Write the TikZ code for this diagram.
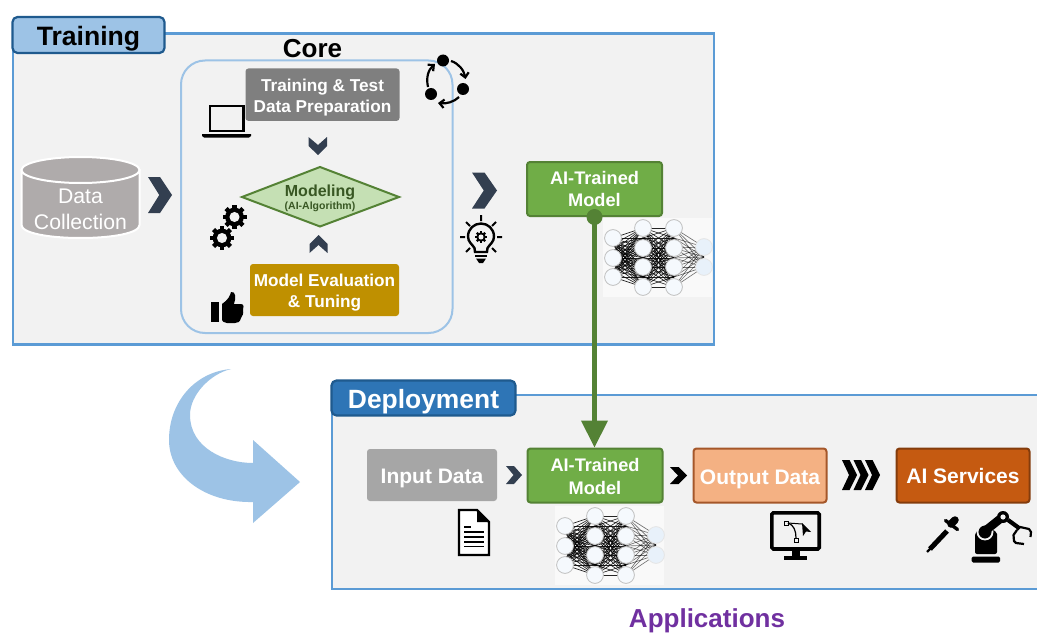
\documentclass[tikz,border=0pt]{standalone}
\usepackage{fontspec}
\setmainfont{Liberation Sans}
\usetikzlibrary{arrows.meta}
\definecolor{panelbg}{HTML}{F2F2F2}
\definecolor{framebl}{HTML}{5B9BD5}
\definecolor{lightbl}{HTML}{9DC3E6}
\definecolor{darkbl}{HTML}{1F5A8E}
\definecolor{deplbl}{HTML}{2E75B6}
\definecolor{navy}{HTML}{333F50}
\definecolor{gn}{HTML}{70AD47}
\definecolor{gndk}{HTML}{548235}
\definecolor{gntx}{HTML}{385723}
\definecolor{gnlt}{HTML}{C5E0B4}
\definecolor{rustdk}{HTML}{843C0C}
\definecolor{rust}{HTML}{C55A11}
\definecolor{peach}{HTML}{F4B183}
\definecolor{peachdk}{HTML}{A5572A}
\definecolor{gold}{HTML}{BF9000}
\definecolor{cylgrey}{HTML}{AFABAB}
\definecolor{boxgrey}{HTML}{7F7F7F}
\definecolor{inpgrey}{HTML}{A6A6A6}
\definecolor{purp}{HTML}{7030A0}
\definecolor{netfill}{HTML}{F5F9FD}
\definecolor{netfilltwo}{HTML}{E8F1FA}
\newcommand{\fs}[2]{\fontsize{#1}{#2}\selectfont}
\newcommand{\chevright}[5]{\fill[#5] (#1,#2) -- ({#1+0.5*#3},#2) -- ({#1+#3},{#2+0.5*#4}) -- ({#1+0.5*#3},{#2+#4}) -- (#1,{#2+#4}) -- ({#1+0.47*#3},{#2+0.5*#4}) -- cycle;}
\newcommand{\gearicon}[3]{\begin{scope}[shift={(#1,#2)}]
 \foreach \a in {0,45,...,315} {\draw[line width=#3*0.38pt,black] (\a:#3*0.6pt) -- (\a:#3*1pt);}
 \fill[black] (0,0) circle[radius=#3*0.78pt];
 \fill[panelbg] (0,0) circle[radius=#3*0.42pt];
\end{scope}}
\newcommand{\neuralnet}[2]{\begin{scope}[shift={(#1,#2)}]
 \fill[white,opacity=.55] (603,218) rectangle (712,297);
 \foreach \ya in {238,244.5,251,258,264.5,271,277} \foreach \yb in {228,238,248,258,267,277,287} {\draw[netline] (613,\ya) -- (643,\yb);}
 \foreach \ya in {228,238,248,258,267,277,287} \foreach \yb in {228,238,248,258,267,277,287} {\draw[netline] (643,\ya) -- (674,\yb);}
 \foreach \ya in {228,238,248,258,267,277,287} \foreach \yb in {247,257,267} {\draw[netline,opacity=.55] (674,\ya) -- (704,\yb);}
 \foreach \x/\y in {613/238,613/258,613/277,643/228,643/248,643/267,643/287,674/228,674/248,674/267,674/287} {\filldraw[netnode] (\x,\y) circle[radius=8.4pt];}
 \foreach \x/\y in {704/247,704/267} {\filldraw[netnode,fill=netfilltwo,draw=black!10] (\x,\y) circle[radius=8.4pt];}
\end{scope}}
\tikzset{
 panel/.style={fill=panelbg,draw=framebl,line width=2.2pt},
 tabbox/.style={draw=darkbl,fill=lightbl,line width=2.2pt,rounded corners=5pt,inner sep=0pt},
 flatbox/.style={rounded corners=3pt,inner sep=0pt,text=white,align=center,font=\fs{17.2}{21}\bfseries},
 modelbox/.style={flatbox,fill=gn,draw=gndk,line width=2pt,font=\fs{18.2}{22.5}\bfseries},
 wideflat/.style={rounded corners=3pt,inner sep=0pt,text=white,align=center,font=\fs{21}{24}\bfseries},
 netline/.style={draw=black,line width=.65pt,opacity=.85},
 netnode/.style={fill=netfill,draw=black!25,line width=.8pt},
 barb/.style={-{Straight Barb[length=4.5pt,width=8.5pt]},line width=2.2pt},
}
\begin{document}
\begin{tikzpicture}[x=1pt,y=-1pt]
\useasboundingbox (0,0) rectangle (1037,634);
\fill[white] (0,0) rectangle (1037,634);
% Training panel
\draw[panel] (13,33.5) rectangle (714,344.5);
\node[tabbox,minimum width=152pt,minimum height=36pt] (traintab) at (88.5,35) {\fs{26.6}{30}\bfseries\rule{0pt}{27.5pt}Training};
\node (coretitle) at (312.5,48.5) {\fs{26}{30}\bfseries Core};
\draw[draw=lightbl,line width=2pt,rounded corners=24pt] (181,60.5) rectangle (452.5,333);
% data collection
\filldraw[fill=cylgrey,draw=white,line width=2pt] (21.5,170) -- (21.5,225) .. controls (21.5,233) and (48,238) .. (80.5,238) .. controls (113,238) and (139.5,233) .. (139.5,225) -- (139.5,170) -- cycle;
\filldraw[fill=cylgrey,draw=white,line width=2pt] (80.5,170) ellipse[x radius=59pt,y radius=13pt];
\node[text=white,align=center,font=\fs{21.2}{26}] (datacol) at (80.5,209) {Data\\Collection};
\chevright{148}{177}{24}{36}{navy}
% core
\node[flatbox,fill=boxgrey,minimum width=154pt,minimum height=52.5pt] (prep) at (322.5,94.7) {\rule{0pt}{18.5pt}Training \& Test\\Data Preparation};
\fill[navy] (308.5,137) -- (318,145) -- (327,137) -- (327,146) -- (318,155) -- (308.5,146) -- cycle;
\draw[fill=gnlt,draw=gndk,line width=2pt,line join=miter] (242,197) -- (320,167) -- (399,197) -- (320,226.5) -- cycle;
\node[inner sep=0pt,text=gntx,font=\fs{16}{18}\bfseries] (modeling) at (320,192) {Modeling};
\node[inner sep=0pt,text=gntx,font=\fs{10.5}{12}\bfseries] (algo) at (320,206.5) {(AI-Algorithm)};
\fill[navy] (309.5,253) -- (318.5,245) -- (327.5,253) -- (327.5,244) -- (318.5,235) -- (309.5,244) -- cycle;
\node[flatbox,fill=gold,minimum width=149pt,minimum height=52pt] (tune) at (324.5,290) {\rule{0pt}{17.4pt}Model Evaluation\\\& Tuning};
% laptop
\draw[line width=2.8pt] (210,106) rectangle (243.5,131);
\fill (202,134) -- (251,134) -- (251,136) -- (249,137.5) -- (204,137.5) -- (202,136) -- cycle;
% cycle icon
\fill (443,60.5) circle[radius=6pt] (463,89) circle[radius=6pt] (431,94) circle[radius=6pt];
\draw[barb] (451,61) .. controls (458,63) and (464,70) .. (465.5,79);
\draw[barb] (459,97) .. controls (454,102) and (446,104) .. (438,103);
\draw[barb] (428,87) .. controls (426,78) and (428,70) .. (435,64);
% gears
\gearicon{234.5}{217}{12}
\gearicon{222}{238}{12}
% thumb
\fill (211,302) rectangle (219,321.5);
\fill (222,304) .. controls (228,300) and (230,296) .. (231,292) .. controls (236,291) and (236,298) .. (234,304) -- (241,304) .. controls (244,304) and (244,308) .. (243,310) .. controls (244,314) and (242,316) .. (241,318) .. controls (240,322) and (238,323) .. (235,323) -- (227,323) .. controls (224,323) and (222,321) .. (222,320) -- cycle;
% chevron and bulb
\chevright{472}{172.5}{25}{36}{navy}
\draw[line width=2.4pt] (474.5,248) .. controls (472,244) and (468,242) .. (468,236.5) .. controls (468,229) and (474,223.5) .. (481,223.5) .. controls (488,223.5) and (494,229) .. (494,236.5) .. controls (494,242) and (490,244) .. (487.5,248) -- (487,252) -- (475,252) -- cycle;
\gearicon{481}{237}{6}
\draw[line width=2pt] (481,215) -- (481,221) (460,237) -- (465,237) (497,237) -- (502,237) (466,222) -- (470,226) (496,222) -- (492,226) (466,252) -- (470,248) (496,252) -- (492,248);
\draw[line width=2pt] (475,255.5) -- (487,255.5);
\fill (476,258.5) -- (486,258.5) -- (483,263) -- (479,263) -- cycle;
% top model
\neuralnet{0}{0}
\node[modelbox,minimum width=135pt,minimum height=54pt] (modeltop) at (594.5,189) {AI-Trained\\Model};
% Deployment panel
\fill[panelbg] (332,395) rectangle (1037,589);
\draw[draw=framebl,line width=2.2pt] (1037,395) -- (332,395) -- (332,589) -- (1037,589);
\node[tabbox,fill=deplbl,minimum width=184pt,minimum height=35pt,text=white] (deploytab) at (423.5,398) {\fs{26.4}{30}\bfseries\rule{0pt}{27.4pt}Deployment};
% curved arrow
\fill[lightbl] (231,369) .. controls (195,372) and (169,402) .. (169,440) .. controls (169,476) and (205,503) .. (253,502) -- (253,523) -- (300,482) -- (253,440) -- (253,463) .. controls (225,463) and (190,448) .. (190,415) .. controls (190,395) and (210,374) .. (231,369) -- cycle;
% boxes
\node[wideflat,fill=inpgrey,minimum width=130pt,minimum height=52pt] (input) at (432,475) {\rule{0pt}{21pt}Input Data};
\chevright{506}{466}{16}{18}{navy}
\neuralnet{-48}{288}
\node[modelbox,minimum width=135pt,minimum height=54pt] (modelbot) at (595,475.5) {\rule{0pt}{15.3pt}AI-Trained\\Model};
\chevright{670}{467}{17}{17}{black}
\node[wideflat,fill=peach,draw=peachdk,line width=2pt,minimum width=133pt,minimum height=54pt] (output) at (760,475.5) {\rule{0pt}{21.5pt}Output Data};
\chevright{842}{460}{15}{30}{black}
\chevright{853.5}{460}{15}{30}{black}
\chevright{865}{460}{15}{30}{black}
\node[wideflat,fill=rust,draw=rustdk,line width=2pt,minimum width=133pt,minimum height=54pt] (services) at (963,475.5) {\rule{0pt}{17pt}AI Services};
% connector
\fill[gndk] (modeltop.south) circle[radius=8pt];
\draw[gndk,line width=4.2pt,-{Triangle[length=27pt,width=26pt]}] (modeltop.south) -- (modeltop.south |- modelbot.north);
% document icon
\draw[line width=2.4pt,line join=miter,fill=white] (459,510) -- (477,510) -- (489,522) -- (489,555) -- (459,555) -- cycle;
\fill (477,510) -- (489,522) -- (477,522) -- cycle;
\draw[line width=1.7pt] (464,527) -- (471,527) (464,532) -- (484,532) (464,537) -- (484,537) (464,542) -- (484,542) (464,546.5) -- (484,546.5);
% monitor icon
\draw[line width=3.6pt,rounded corners=1.5pt] (771.8,512.8) rectangle (819.2,549);
\fill (792,550) rectangle (800,556);
\fill (784,556) rectangle (807,559.5);
\draw[line width=1pt] (784,521) rectangle (788,525);
\draw[line width=1pt] (794,538) rectangle (798,542);
\draw[line width=1.2pt] (788,523) .. controls (794,525) and (796,531) .. (796,538);
\draw[line width=1pt] (788,523) -- (802,524);
\fill (802,523) -- (811,532) -- (806,531.5) -- (803,536) -- cycle;
% pipette
\draw[line width=2.2pt] (927,552) -- (931,548);
\draw[line width=5pt] (930,549) -- (947,531);
\draw[line width=3.4pt,line cap=round] (945.5,520.5) -- (957.5,529.5);
\draw[line width=7.5pt,line cap=round] (951,524) -- (955,520);
% robot
\fill[rounded corners=1.5pt] (971.5,556.5) rectangle (1000,562.5);
\fill[rounded corners=2pt] (975,554) -- (975,533) -- (984,526) -- (997,532) -- (997,554) -- cycle;
\draw[draw=panelbg,line width=1.8pt,fill=black] (985,532) circle[radius=7.5pt];
\draw[line width=8.5pt] (985,531) -- (1000,519);
\fill (1003,517) circle[radius=6pt];
\fill[panelbg] (1003,517) circle[radius=2.6pt];
\draw[line width=4.2pt] (1008,520) -- (1019,528);
\draw[line width=2.2pt,line join=round] (1017,530) -- (1020,527) -- (1029,529) -- (1031,532) -- (1030.5,537);
\draw[line width=2.2pt,line join=round] (1017,530) -- (1013.5,535) -- (1014,541) -- (1016,543) -- (1024,544);
% applications
\node[text=purp,font=\fs{26}{30}\bfseries] (apps) at (707,620.5) {Applications};
\end{tikzpicture}
\end{document}
